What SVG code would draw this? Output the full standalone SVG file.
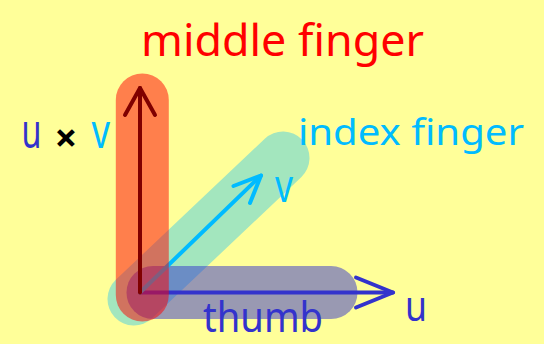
<svg xmlns="http://www.w3.org/2000/svg" width="544" height="344" viewBox="0 0 544 344">
<style>
.bar{fill:none;stroke-linecap:round;stroke-width:53}
.arr{fill:none;stroke-width:4;stroke-linecap:round;stroke-linejoin:round}
.lbl{font-family:"Noto Sans","Open Sans",sans-serif}
</style>
<rect x="0" y="0" width="544" height="344" fill="#FFFF99"/>
<g id="index-finger">
<line class="bar" x1="134" y1="299" x2="283" y2="158" stroke="#00BBFF" stroke-opacity="0.36"/>
<text class="lbl" x="298" y="145" font-size="37" fill="#00BBFF" textLength="226" lengthAdjust="spacingAndGlyphs">index finger</text>
</g>
<g id="thumb">
<line class="bar" x1="153" y1="292.5" x2="331" y2="292.5" stroke="#3333CC" stroke-opacity="0.5"/>
<text class="lbl" x="203" y="332" font-size="42" fill="#3333CC" textLength="120" lengthAdjust="spacingAndGlyphs">thumb</text>
</g>
<g id="connectors">
<g id="arrow-u">
<line class="arr" x1="140" y1="292.5" x2="393" y2="292.5" stroke="#3333CC"/>
<polyline class="arr" points="356,277.5 393,292.5 356,307.5" stroke="#3333CC"/>
</g>
<g id="arrow-v">
<line class="arr" x1="140" y1="292.5" x2="261" y2="175.5" stroke="#00BBFF"/>
<polyline class="arr" points="233.5,186 261,175.5 250,203" stroke="#00BBFF"/>
</g>
<g id="arrow-uxv">
<line class="arr" x1="140" y1="292.5" x2="140" y2="88" stroke="#000000"/>
<polyline class="arr" points="125,115 140,88 155,115" stroke="#000000"/>
</g>
</g>
<g id="middle-finger">
<line class="bar" x1="142.3" y1="100" x2="142.3" y2="295" stroke="#FF0000" stroke-opacity="0.5"/>
<text class="lbl" x="141" y="55.5" font-size="44" fill="#FF0000" textLength="283" lengthAdjust="spacingAndGlyphs">middle finger</text>
</g>
<g id="vector-labels" class="lbl">
<text x="275" y="202" font-size="46" fill="#00BBFF" textLength="18" lengthAdjust="spacingAndGlyphs">v</text>
<text x="405" y="321" font-size="42" fill="#3333CC" textLength="22" lengthAdjust="spacingAndGlyphs">u</text>
<text x="21.5" y="148" font-size="48" fill="#3333CC" textLength="20" lengthAdjust="spacingAndGlyphs">u</text>
<text x="66" y="152" font-size="40" font-weight="bold" fill="#000000" text-anchor="middle">×</text>
<text x="91.5" y="148" font-size="48" fill="#00BBFF" textLength="18.5" lengthAdjust="spacingAndGlyphs">v</text>
</g>
</svg>
